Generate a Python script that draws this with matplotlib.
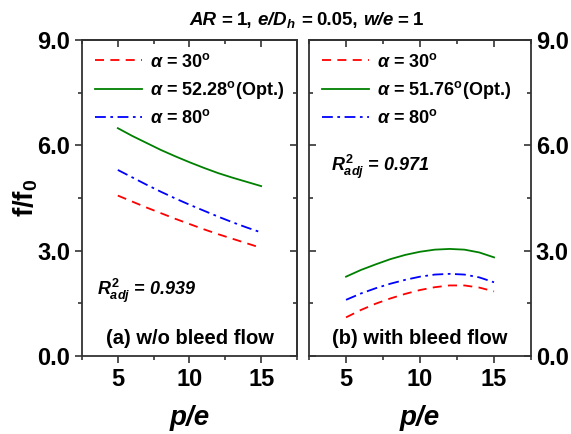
import matplotlib
matplotlib.use("Agg")
import matplotlib.pyplot as plt
from matplotlib.ticker import MultipleLocator, FormatStrFormatter

plt.rcParams['font.family'] = ['Liberation Sans', 'DejaVu Sans']
plt.rcParams['font.weight'] = 'bold'
plt.rcParams['axes.labelweight'] = 'bold'
plt.rcParams['mathtext.fontset'] = 'custom'
plt.rcParams['mathtext.default'] = 'it'
plt.rcParams['mathtext.rm'] = 'Liberation Sans:bold'
plt.rcParams['mathtext.it'] = 'Liberation Sans:bold:italic'
plt.rcParams['mathtext.bf'] = 'Liberation Sans:bold'

# data
pe = [5, 6, 7, 8, 9, 10, 11, 12, 13, 14, 15]

# (a) w/o bleed flow
a_30 = [4.57, 4.40, 4.23, 4.07, 3.91, 3.76, 3.61, 3.47, 3.34, 3.21, 3.08]
a_opt = [6.49, 6.27, 6.07, 5.87, 5.69, 5.52, 5.36, 5.21, 5.08, 4.96, 4.84]
a_80 = [5.30, 5.09, 4.88, 4.68, 4.49, 4.31, 4.14, 3.97, 3.81, 3.66, 3.52]

# (b) with bleed flow
b_30 = [1.10, 1.31, 1.49, 1.64, 1.77, 1.88, 1.96, 2.01, 2.01, 1.95, 1.84]
b_opt = [2.26, 2.45, 2.61, 2.76, 2.88, 2.97, 3.03, 3.05, 3.03, 2.95, 2.81]
b_80 = [1.60, 1.78, 1.93, 2.06, 2.17, 2.26, 2.32, 2.34, 2.32, 2.24, 2.10]

opt_angles = ['52.28', '51.76']
r2_values = ['0.939', '0.971']
panel_titles = ['(a) w/o bleed flow', '(b) with bleed flow']
r2_pos = [(0.07, 0.205), (0.1, 0.6)]

# title pieces: (text, style)
title_parts = [('AR', 'italic'), ('=', 'normal'), ('1,', 'normal'),
               ('e/D$_h$', 'italic'), ('=', 'normal'), ('0.05,', 'normal'),
               ('w/e', 'italic'), ('=', 'normal'), ('1', 'normal')]

fig = plt.figure(figsize=(5.71, 4.34), dpi=100)
ax1 = fig.add_axes([0.1436, 0.1797, 0.3765, 0.728])
ax2 = fig.add_axes([0.5412, 0.1797, 0.3888, 0.728])

panels = [(ax1, a_30, a_opt, a_80), (ax2, b_30, b_opt, b_80)]
spine_col = '#333333'

for i, (ax, y30, yopt, y80) in enumerate(panels):
    ax.plot(pe, y30, color='#ff0000', lw=1.3, linestyle=(0, (5, 3.5)),
            label=r'$\alpha$ = 30$^{\mathrm{o}}$')
    ax.plot(pe, yopt, color='#008000', lw=1.3, linestyle='-',
            label=r'$\alpha$ = ' + opt_angles[i] + r'$^{\mathrm{o}}$(Opt.)')
    ax.plot(pe, y80, color='#0000ff', lw=1.3, linestyle=(0, (6, 2.5, 1.5, 2.5)),
            label=r'$\alpha$ = 80$^{\mathrm{o}}$')

    ax.set_xlim(2.5, 17.5)
    ax.set_ylim(0, 9)
    ax.xaxis.set_major_locator(MultipleLocator(5))
    ax.xaxis.set_minor_locator(MultipleLocator(2.5))
    ax.yaxis.set_major_locator(MultipleLocator(3))
    ax.yaxis.set_minor_locator(MultipleLocator(1.5))
    ax.yaxis.set_major_formatter(FormatStrFormatter('%.1f'))
    for s in ax.spines.values():
        s.set_linewidth(1.3)
        s.set_color(spine_col)
    ax.tick_params(axis='both', which='major', labelsize=17, length=5, width=1.2,
                   color=spine_col)
    ax.tick_params(axis='both', which='minor', length=3, width=1.2, color=spine_col)
    ax.tick_params(axis='x', which='both', direction='out', top=False)
    ax.set_xlabel('p/e', fontsize=20, fontstyle='italic', fontweight='bold',
                  labelpad=10)

    # top ticks point inward
    top = ax.secondary_xaxis('top')
    top.xaxis.set_major_locator(MultipleLocator(5))
    top.xaxis.set_minor_locator(MultipleLocator(2.5))
    top.tick_params(axis='x', which='both', direction='in', labeltop=False,
                    color=spine_col, width=1.2)
    top.tick_params(which='major', length=5)
    top.tick_params(which='minor', length=3)
    top.spines['top'].set_linewidth(1.3)
    top.spines['top'].set_color(spine_col)

    ax.legend(loc='upper left', frameon=False, fontsize=13,
              handlelength=2.6, handletextpad=0.45, labelspacing=0.45,
              borderaxespad=0.3)

    ax.text(0.5, 0.055, panel_titles[i], transform=ax.transAxes,
            ha='center', va='center', fontsize=14.5)

    ax.text(r2_pos[i][0], r2_pos[i][1],
            r'$R^{2}_{adj}$ = ' + r2_values[i],
            transform=ax.transAxes, fontsize=13, fontstyle='italic',
            ha='left', va='center')

# left panel: labels left (ticks out), ticks on right pointing in
ax1.tick_params(axis='y', which='both', direction='out', right=False)
rt = ax1.secondary_yaxis('right')
rt.yaxis.set_major_locator(MultipleLocator(3))
rt.yaxis.set_minor_locator(MultipleLocator(1.5))
rt.tick_params(axis='y', which='both', direction='in', labelright=False,
               color=spine_col, width=1.2)
rt.tick_params(which='major', length=5)
rt.tick_params(which='minor', length=3)
rt.spines['right'].set_linewidth(1.3)
rt.spines['right'].set_color(spine_col)

# right panel: ticks in on both sides, labels on the right
ax2.tick_params(axis='y', which='both', direction='in', left=True, right=True,
                labelleft=False, labelright=True)

ax1.set_ylabel(r'f/f$_{\mathrm{0}}$', fontsize=20, labelpad=-2)

# title built from pieces so the variables get a real italic slash
renderer = fig.canvas.get_renderer()
W, H = fig.bbox.width, fig.bbox.height
gap = 4.7
texts = []
x = 0.0
for txt, style in title_parts:
    t = fig.text(0, 0, txt, fontsize=13.5, fontstyle=style,
                 ha='left', va='baseline')
    w = t.get_window_extent(renderer).width
    texts.append((t, x))
    x += w + gap
total = x - gap
x0 = 0.537 * W - total / 2
y_base = (1 - 25 / 434.0)
for t, dx in texts:
    t.set_position(((x0 + dx) / W, y_base))

fig.savefig('out.png', dpi=100)
